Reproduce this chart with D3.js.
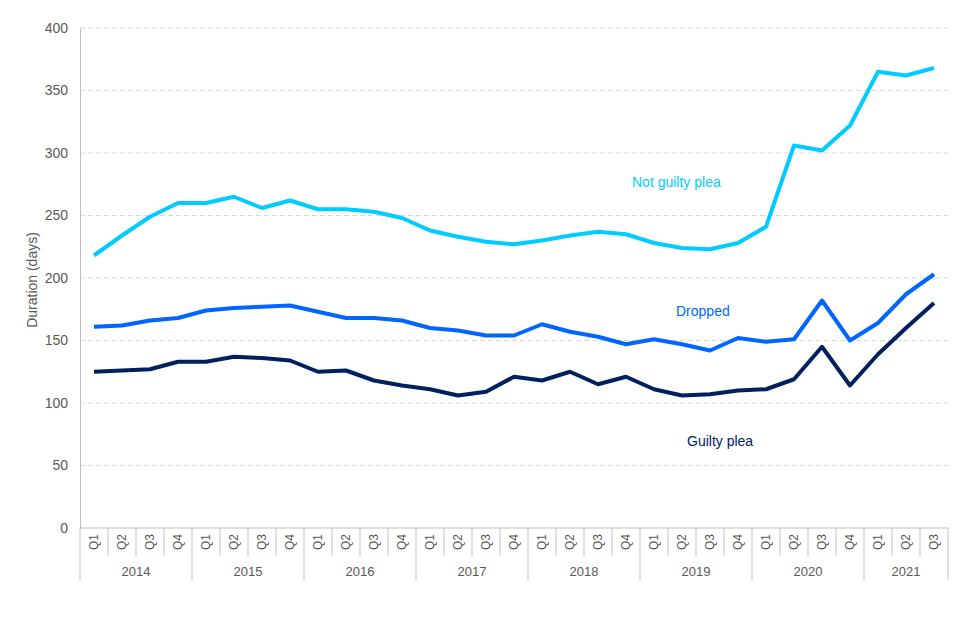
<!DOCTYPE html>
<html>
<head>
<meta charset="utf-8">
<script src="https://cdn.jsdelivr.net/npm/d3@7"></script>
<style>
  body { margin: 0; background: white; }
  svg { font-family: "Liberation Sans", Arial, sans-serif; }
</style>
</head>
<body>
<svg></svg>
<script>
let years = ["2014", "2015", "2016", "2017", "2018", "2019", "2020", "2021"];
let quarterNames = ["Q1", "Q2", "Q3", "Q4"];
let yTicks = [0, 50, 100, 150, 200, 250, 300, 350, 400];

let notGuilty = [218, 234, 249, 260, 260, 265, 256, 262, 255, 255, 253, 248,
                 238, 233, 229, 227, 230, 234, 237, 235, 228, 224, 223, 228,
                 241, 306, 302, 322, 365, 362, 368];
let dropped = [161, 162, 166, 168, 174, 176, 177, 178, 173, 168, 168, 166,
               160, 158, 154, 154, 163, 157, 153, 147, 151, 147, 142, 152,
               149, 151, 182, 150, 164, 187, 203];
let guilty = [125, 126, 127, 133, 133, 137, 136, 134, 125, 126, 118, 114,
              111, 106, 109, 121, 118, 125, 115, 121, 111, 106, 107, 110,
              111, 119, 145, 114, 139, 160, 180];

let width = 960;
let height = 640;
let paddings = { top: 28, right: 12, left: 80, bottom: 112 };

// build the quarter list (2014 Q1 .. 2021 Q3)
let quarters = [];
years.forEach(y => quarterNames.forEach(q => quarters.push({ year: y, q: q, key: y + q })));
quarters = quarters.slice(0, notGuilty.length);

let series = [
  { name: "Not guilty plea", values: notGuilty, color: "#00CCFF", labelX: 632, labelY: 187 },
  { name: "Dropped", values: dropped, color: "#0066FF", labelX: 676, labelY: 316 },
  { name: "Guilty plea", values: guilty, color: "#002060", labelX: 687, labelY: 446 }
];

let svg = d3.select("svg")
            .attr("width", width)
            .attr("height", height)
            .style("background-color", "white");

let scaleX = d3.scaleBand()
               .domain(quarters.map(d => d.key))
               .range([paddings.left, width - paddings.right]);

let scaleY = d3.scaleLinear()
               .domain([0, 400])
               .range([height - paddings.bottom, paddings.top]);

// gridlines
svg.append("g")
   .selectAll("line")
   .data(yTicks.filter(d => d > 0))
   .enter()
   .append("line")
   .attr("x1", paddings.left)
   .attr("x2", width - paddings.right)
   .attr("y1", d => scaleY(d))
   .attr("y2", d => scaleY(d))
   .attr("stroke", "#d9d9d9")
   .attr("stroke-dasharray", "5,3");

// y axis
let yAxis = d3.axisLeft(scaleY).tickValues(yTicks).tickSize(0).tickPadding(12);
let gy = svg.append("g")
   .attr("transform", `translate(${paddings.left}, 0)`)
   .call(yAxis);
gy.select(".domain").attr("stroke", "#bfbfbf");
gy.selectAll("text").style("font-size", "14px").attr("fill", "#595959");

svg.append("text")
   .attr("transform", `translate(37, ${(scaleY(0) + scaleY(400)) / 2 + 2}) rotate(-90)`)
   .attr("text-anchor", "middle")
   .style("font-size", "14px")
   .attr("fill", "#595959")
   .text("Duration (days)");

// x axis: quarters and years
let baseY = scaleY(0);
let gx = svg.append("g");
gx.append("line")
  .attr("x1", paddings.left).attr("x2", width - paddings.right)
  .attr("y1", baseY).attr("y2", baseY)
  .attr("stroke", "#bfbfbf");

gx.selectAll(".qsep")
  .data(quarters)
  .enter()
  .append("line")
  .attr("x1", d => scaleX(d.key) + scaleX.bandwidth())
  .attr("x2", d => scaleX(d.key) + scaleX.bandwidth())
  .attr("y1", baseY)
  .attr("y2", (d, i) => (d.q === "Q4" || i === quarters.length - 1) ? baseY + 52 : baseY + 28)
  .attr("stroke", "#bfbfbf");

gx.append("line")
  .attr("x1", paddings.left).attr("x2", paddings.left)
  .attr("y1", baseY).attr("y2", baseY + 52)
  .attr("stroke", "#bfbfbf");

gx.selectAll(".qlabel")
  .data(quarters)
  .enter()
  .append("text")
  .attr("transform", d => `translate(${scaleX(d.key) + scaleX.bandwidth() / 2 + 4}, ${baseY + 14}) rotate(-90)`)
  .attr("text-anchor", "middle")
  .style("font-size", "12px")
  .attr("fill", "#595959")
  .text(d => d.q);

gx.selectAll(".ylabel")
  .data(years)
  .enter()
  .append("text")
  .attr("x", y => {
    let qs = quarters.filter(d => d.year === y);
    let x0 = scaleX(qs[0].key);
    let x1 = scaleX(qs[qs.length - 1].key) + scaleX.bandwidth();
    return (x0 + x1) / 2;
  })
  .attr("y", baseY + 48)
  .attr("text-anchor", "middle")
  .style("font-size", "13px")
  .attr("fill", "#595959")
  .text(y => y);

// lines
let line = d3.line()
             .x((d, i) => scaleX(quarters[i].key) + scaleX.bandwidth() / 2)
             .y(d => scaleY(d));

svg.append("g")
   .selectAll("path")
   .data(series)
   .enter()
   .append("path")
   .attr("d", d => line(d.values))
   .attr("fill", "none")
   .attr("stroke", d => d.color)
   .attr("stroke-width", 4)
   .attr("stroke-linejoin", "round");

svg.append("g")
   .selectAll("text")
   .data(series)
   .enter()
   .append("text")
   .attr("x", d => d.labelX)
   .attr("y", d => d.labelY)
   .style("font-size", "14px")
   .attr("fill", d => d.color)
   .text(d => d.name);
</script>
</body>
</html>
